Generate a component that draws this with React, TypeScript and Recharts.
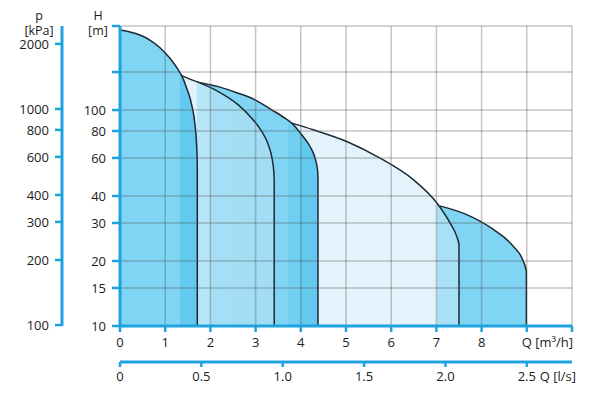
import { ComposedChart, Area, XAxis, YAxis, CartesianGrid } from 'recharts';

const BLUE = '#1ea2e0';
const INK = '#1c1c1c';
const EDGE = '#1d2a33';
const FONT = '"Open Sans", "Noto Sans", sans-serif';

// Q [m3/h] against head H [m]
const curveA = [
    { q: 0, h: 235 }, { q: 0.22, h: 230 }, { q: 0.44, h: 222.5 }, { q: 0.66, h: 211 },
    { q: 0.885, h: 194.4 }, { q: 1.106, h: 173.6 }, { q: 1.29, h: 153.4 }, { q: 1.365, h: 144.3 },
    { q: 1.476, h: 126.3 }, { q: 1.586, h: 105.7 }, { q: 1.66, h: 85.4 }, { q: 1.695, h: 69 },
    { q: 1.71, h: 56 }, { q: 1.71, h: 10 },
];
const curveB = [
    { q: 1.697, h: 135.4 }, { q: 2.175, h: 121.8 }, { q: 2.617, h: 105.7 }, { q: 2.914, h: 91.7 },
    { q: 3.135, h: 79.6 }, { q: 3.281, h: 69.1 }, { q: 3.369, h: 58.9 }, { q: 3.405, h: 51.1 },
    { q: 3.412, h: 46 }, { q: 3.412, h: 10 },
];
const curveC = [
    { q: 1.365, h: 144.3 }, { q: 1.697, h: 135.4 }, { q: 2.175, h: 128.4 }, { q: 2.617, h: 119.7 },
    { q: 2.987, h: 111.5 }, { q: 3.356, h: 100.2 }, { q: 3.65, h: 91.7 }, { q: 3.8, h: 87 },
    { q: 4.02, h: 76.8 }, { q: 4.204, h: 67.8 }, { q: 4.314, h: 60 }, { q: 4.37, h: 52.9 },
    { q: 4.38, h: 47.6 }, { q: 4.38, h: 10 },
];
const curveD = [
    { q: 3.8, h: 87 }, { q: 4.277, h: 81 }, { q: 5.016, h: 71.5 }, { q: 5.752, h: 59.9 },
    { q: 6.489, h: 47.6 }, { q: 7.007, h: 37.2 }, { q: 7.301, h: 30 }, { q: 7.449, h: 26 },
    { q: 7.5, h: 23.8 }, { q: 7.5, h: 10 },
];
const curveE = [
    { q: 7.07, h: 36 }, { q: 7.67, h: 32.8 }, { q: 8.26, h: 28 }, { q: 8.7, h: 23.4 },
    { q: 8.92, h: 20 }, { q: 8.99, h: 17.9 }, { q: 8.99, h: 10 },
];

const qTicks = [0, 1, 2, 3, 4, 5, 6, 7, 8, 9, 10];
const lsTicks = [0, 0.5, 1, 1.5, 2, 2.5]; // l/s, 1 l/s = 3.6 m3/h
const hTicks = [10, 15, 20, 30, 40, 60, 80, 100, 150, 245];
const pTicks = [100, 200, 300, 400, 600, 800, 1000, 2000];

const txt = { fill: INK, fontSize: 13, fontFamily: FONT };

function QTick({ x, y, payload }: any) {
    const v = payload.value;
    if (v === 10) return <g />;
    if (v === 9) {
        return <text x={x - 5} y={y} dy="0.71em" {...txt}>Q [m³/h]</text>;
    }
    return <text x={x} y={y} dy="0.71em" textAnchor="middle" {...txt}>{v}</text>;
}

function LsTick({ x, y, payload }: any) {
    const l = Math.round((payload.value / 3.6) * 10) / 10;
    const label = l === 0 ? '0' : l.toFixed(1);
    return (
        <g>
            <text x={x} y={y} dy="0.71em" textAnchor="middle" {...txt}>{label}</text>
            {l === 2.5 && <text x={x + 13} y={y} dy="0.71em" {...txt}>Q [l/s]</text>}
        </g>
    );
}

function AxisTitle({ viewBox, name, unit, dx }: any) {
    const vb = viewBox || { x: 0, width: 0 };
    const cx = vb.x + vb.width - dx;
    return (
        <g>
            <text x={cx} y={20} textAnchor="middle" {...txt} fontSize={12.5}>{name}</text>
            <text x={cx} y={35} textAnchor="middle" {...txt} fontSize={12.5}>{unit}</text>
        </g>
    );
}

export default function App() {
    const edge = { stroke: EDGE, strokeWidth: 1.5 };
    return (
        <div style={{ width: 600, height: 397 }}>
            <style>{'body{margin:0}'}</style>
            <ComposedChart width={600} height={397} margin={{ top: 26, right: 28, bottom: 0, left: 0 }}>
                <defs>
                    <linearGradient id="fillA" x1="0" y1="0" x2="1" y2="0">
                        <stop offset="0" stopColor="#7fd5f3" />
                        <stop offset="0.772" stopColor="#7fd5f3" />
                        <stop offset="0.772" stopColor="#63c9ee" />
                        <stop offset="1" stopColor="#63c9ee" />
                    </linearGradient>
                    <linearGradient id="fillB" x1="0" y1="0" x2="1" y2="0">
                        <stop offset="0" stopColor="#b6e6f8" />
                        <stop offset="0.17" stopColor="#b6e6f8" />
                        <stop offset="0.17" stopColor="#a6dff5" />
                        <stop offset="1" stopColor="#a2ddf5" />
                    </linearGradient>
                    <linearGradient id="fillC" x1="0" y1="0" x2="1" y2="0">
                        <stop offset="0" stopColor="#e2f1fb" />
                        <stop offset="0.112" stopColor="#e2f1fb" />
                        <stop offset="0.112" stopColor="#a8e0f6" />
                        <stop offset="0.207" stopColor="#a8e0f6" />
                        <stop offset="0.207" stopColor="#7fd5f3" />
                        <stop offset="0.78" stopColor="#7fd5f3" />
                        <stop offset="0.78" stopColor="#71cff1" />
                        <stop offset="0.87" stopColor="#71cff1" />
                        <stop offset="0.87" stopColor="#63c9ee" />
                        <stop offset="1" stopColor="#63c9ee" />
                    </linearGradient>
                    <linearGradient id="fillD" x1="0" y1="0" x2="1" y2="0">
                        <stop offset="0" stopColor="#e4f2fb" />
                        <stop offset="0.87" stopColor="#e4f2fb" />
                        <stop offset="0.87" stopColor="#a8e0f6" />
                        <stop offset="1" stopColor="#a8e0f6" />
                    </linearGradient>
                </defs>
                <XAxis
                    dataKey="q"
                    type="number"
                    domain={[0, 10]}
                    ticks={qTicks}
                    interval={0}
                    height={36}
                    tickSize={6}
                    tickMargin={6}
                    axisLine={{ stroke: BLUE, strokeWidth: 3 }}
                    tickLine={{ stroke: BLUE, strokeWidth: 2.5 }}
                    tick={<QTick />}
                    allowDataOverflow
                />
                <XAxis
                    xAxisId="ls"
                    dataKey="q"
                    type="number"
                    scale="linear"
                    domain={[0, 10]}
                    ticks={lsTicks.map((l) => l * 3.6)}
                    interval={0}
                    height={35}
                    tickSize={5}
                    tickMargin={5}
                    axisLine={{ stroke: BLUE, strokeWidth: 3 }}
                    tickLine={{ stroke: BLUE, strokeWidth: 2.5 }}
                    tick={<LsTick />}
                    allowDataOverflow
                />
                <YAxis
                    type="number"
                    scale="log"
                    domain={[10, 245]}
                    ticks={hTicks}
                    interval={0}
                    width={58}
                    tickSize={8}
                    tickMargin={6}
                    axisLine={{ stroke: BLUE, strokeWidth: 3 }}
                    tickLine={{ stroke: BLUE, strokeWidth: 2.5 }}
                    tick={txt}
                    tickFormatter={(v: number) => (v === 150 || v === 245 ? '' : String(v))}
                    label={<AxisTitle name="H" unit="[m]" dx={22} />}
                    allowDataOverflow
                />
                <YAxis
                    yAxisId="p"
                    type="number"
                    scale="log"
                    domain={[99, 2420]}
                    ticks={pTicks}
                    interval={0}
                    width={62}
                    tickSize={7}
                    tickMargin={6}
                    axisLine={{ stroke: BLUE, strokeWidth: 3 }}
                    tickLine={{ stroke: BLUE, strokeWidth: 2.5 }}
                    tick={txt}
                    label={<AxisTitle name="p" unit="[kPa]" dx={23} />}
                    allowDataOverflow
                />
                {/* carries the l/s axis, draws nothing */}
                <Area xAxisId="ls" data={curveE} dataKey="h" baseValue={10} fill="none" stroke="none" dot={false} activeDot={false} isAnimationActive={false} />
                <Area data={curveE} dataKey="h" type="monotone" baseValue={10} fill="#7fd5f3" fillOpacity={1} {...edge} dot={false} activeDot={false} isAnimationActive={false} />
                <Area data={curveD} dataKey="h" type="monotone" baseValue={10} fill="url(#fillD)" fillOpacity={1} {...edge} dot={false} activeDot={false} isAnimationActive={false} />
                <Area data={curveC} dataKey="h" type="monotone" baseValue={10} fill="url(#fillC)" fillOpacity={1} {...edge} dot={false} activeDot={false} isAnimationActive={false} />
                <Area data={curveB} dataKey="h" type="monotone" baseValue={10} fill="url(#fillB)" fillOpacity={1} {...edge} dot={false} activeDot={false} isAnimationActive={false} />
                <Area data={curveA} dataKey="h" type="monotone" baseValue={10} fill="url(#fillA)" fillOpacity={1} {...edge} dot={false} activeDot={false} isAnimationActive={false} />
                <CartesianGrid stroke="rgba(80,80,80,0.33)" strokeWidth={1.5} zIndex={150} />
            </ComposedChart>
        </div>
    );
}
